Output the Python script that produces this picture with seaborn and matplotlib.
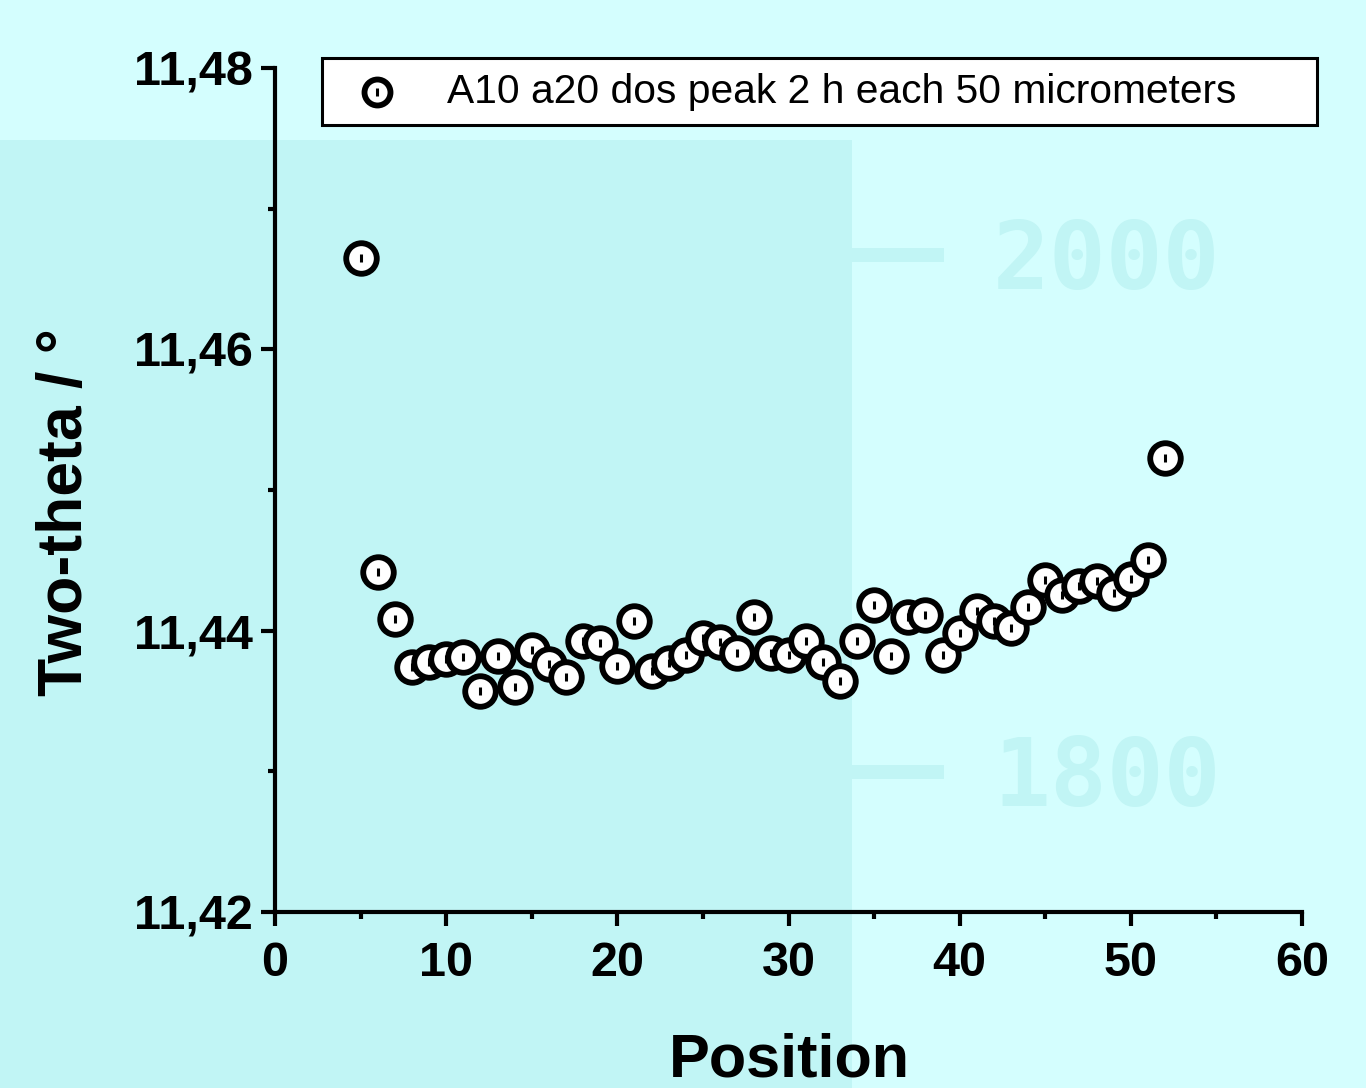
import numpy as np
import pandas as pd
import matplotlib
matplotlib.use("Agg")
import matplotlib.pyplot as plt
import seaborn as sns
from matplotlib.patches import Rectangle

# ---------------- data ----------------
positions = list(range(5, 53))
two_theta = [11.4665, 11.4442, 11.4408, 11.4374, 11.4378, 11.4380, 11.4381, 11.4357,
             11.4382, 11.4360, 11.4386, 11.4376, 11.4367, 11.4393, 11.4391, 11.4375,
             11.4407, 11.4371, 11.4377, 11.4383, 11.4395, 11.4392, 11.4384, 11.4410,
             11.4384, 11.4383, 11.4393, 11.4378, 11.4364, 11.4393, 11.4418, 11.4382,
             11.4410, 11.4411, 11.4383, 11.4398, 11.4414, 11.4407, 11.4402, 11.4417,
             11.4436, 11.4425, 11.4432, 11.4435, 11.4427, 11.4437, 11.4450, 11.4523]
series_label = "A10 a20 dos peak 2 h each 50 micrometers"
x_ticks = [0, 10, 20, 30, 40, 50, 60]
x_tick_labels = ["0", "10", "20", "30", "40", "50", "60"]
y_ticks = [11.42, 11.44, 11.46, 11.48]
y_tick_labels = ["11,42", "11,44", "11,46", "11,48"]
x_label = "Position"
y_label = "Two-theta / °"

df = pd.DataFrame({"Position": positions, "TwoTheta": two_theta})

# ---------------- style ----------------
sns.set_theme(style="ticks")
plt.rcParams["font.family"] = ["Liberation Sans", "DejaVu Sans"]
plt.rcParams["text.color"] = "black"

W, H = 1366, 1088
fig = plt.figure(figsize=(W / 100, H / 100), dpi=100)
bg_light = "#D4FEFE"
bg_dark = "#C1F5F5"
fig.patch.set_facecolor(bg_light)

# background image approximation (behind the axes)
fig.patches.append(Rectangle((0, 0), 852 / W, (H - 140) / H, transform=fig.transFigure,
                             facecolor=bg_dark, edgecolor="none", zorder=-10))
for yy in (255, 772):
    fig.patches.append(Rectangle((852 / W, (H - yy - 7) / H), 92 / W, 14 / H,
                                 transform=fig.transFigure, facecolor=bg_dark,
                                 edgecolor="none", zorder=-10))
fig.text(993 / W, 1 - 263 / H, "2000", fontsize=68, color=bg_dark, fontweight="bold",
         family="DejaVu Sans Mono", va="center", ha="left", zorder=-10)
fig.text(993 / W, 1 - 780 / H, "1800", fontsize=68, color=bg_dark, fontweight="bold",
         family="DejaVu Sans Mono", va="center", ha="left", zorder=-10)

ax = fig.add_axes([275 / W, (H - 912) / H, (1302 - 275) / W, (912 - 68) / H])
ax.set_zorder(1)
ax.set_facecolor("none")

sns.scatterplot(data=df, x="Position", y="TwoTheta", ax=ax, marker="o", s=22 ** 2,
                facecolor="white", edgecolor="black", linewidth=4.2,
                zorder=3, legend=False)
sns.scatterplot(data=df, x="Position", y="TwoTheta", ax=ax, marker="|", s=6 ** 2,
                color="black", linewidth=2.2, zorder=4, legend=False)

ax.set_xlim(0, 60)
ax.set_ylim(11.42, 11.48)
ax.set_xticks(x_ticks)
ax.set_xticklabels(x_tick_labels)
ax.set_yticks(y_ticks)
ax.set_yticklabels(y_tick_labels)
ax.set_xticks([5, 15, 25, 35, 45, 55], minor=True)
ax.set_yticks([11.43, 11.45, 11.47], minor=True)

for side in ("top", "right"):
    ax.spines[side].set_visible(False)
for side in ("left", "bottom"):
    ax.spines[side].set_linewidth(3.0)
    ax.spines[side].set_color("black")

ax.tick_params(axis="both", which="major", direction="out", length=10, width=3.0,
               color="black", labelcolor="black", labelsize=35, pad=6)
ax.tick_params(axis="x", which="major", pad=11)
ax.tick_params(axis="both", which="minor", direction="out", length=5, width=3.0,
               color="black")
for lab in ax.get_xticklabels() + ax.get_yticklabels():
    lab.set_fontweight("bold")

ax.set_xlabel(x_label, fontsize=44, fontweight="bold", color="black")
ax.set_ylabel(y_label, fontsize=45, fontweight="bold", color="black")
ax.xaxis.set_label_coords(0.5005, -0.143)
ax.yaxis.set_label_coords(-0.175, 0.474)

# legend
colls = ax.collections
handle = (colls[0], colls[1])
leg = ax.legend([handle], [series_label], loc="upper left",
                bbox_to_anchor=(322 / W, 0.5, (1317 - 322) / W, (H - 58) / H - 0.5),
                bbox_transform=fig.transFigure, mode="expand", borderaxespad=0,
                fontsize=29.3, frameon=True, fancybox=False, borderpad=0.36,
                handletextpad=0.7, markerscale=0.85, labelcolor="black")
frame = leg.get_frame()
frame.set_edgecolor("black")
frame.set_linewidth(2.2)
frame.set_facecolor("white")
frame.set_alpha(1)

fig.savefig("out.png", dpi=100, facecolor=fig.get_facecolor())
